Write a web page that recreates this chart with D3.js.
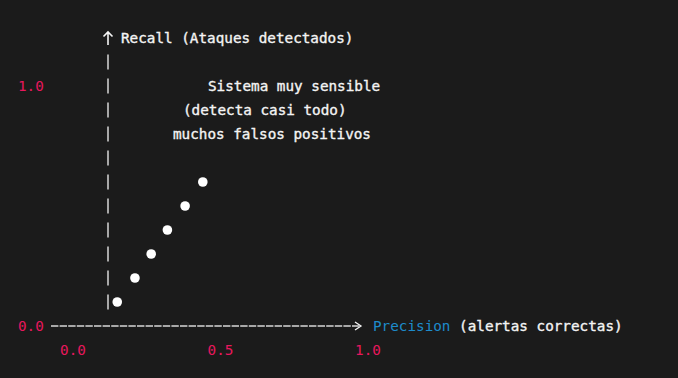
<!DOCTYPE html>
<html>
<head>
<meta charset="utf-8">
<script src="https://cdn.jsdelivr.net/npm/d3@7"></script>
<style>
  html, body { margin: 0; padding: 0; background: #1b1b1b; }
  svg text { font-family: "DejaVu Sans Mono", "Liberation Mono", monospace; font-size: 14.3px; }
</style>
</head>
<body>
<svg id="chart" width="678" height="378"></svg>
<script>
// puntos (precision, recall)
const precision = [0.15, 0.21, 0.265, 0.32, 0.38, 0.44];
const recall = [0.1, 0.2, 0.3, 0.4, 0.5, 0.6];
const xTicks = ["0.0", "0.5", "1.0"];
const yTicks = ["0.0", "1.0"];
const notes = ["Sistema muy sensible", "(detecta casi todo)", "muchos falsos positivos"];

const pink = "#e8175d";
const blue = "#1d8bcb";
const white = "#f4f4f4";

const svg = d3.select("#chart");

const x = d3.scaleLinear().domain([0, 1]).range([73, 368]);
const y = d3.scaleLinear().domain([0, 1]).range([326, 86]);
const axisX = 108;

// texto blanco un poco mas grueso que normal
function medium(sel) {
  sel.attr("fill", white).attr("stroke", white).attr("stroke-width", 0.35);
}

// eje y hecho de barras "|"
const rows = d3.range(1, 12).map((i) => i / 10);
svg.selectAll("line.bar")
  .data(rows)
  .enter()
  .append("line")
  .attr("class", "bar")
  .attr("x1", axisX)
  .attr("x2", axisX)
  .attr("y1", (d) => y(d) - 7.5)
  .attr("y2", (d) => y(d) + 7.5)
  .attr("stroke", white)
  .attr("stroke-width", 1.3);

// flecha arriba
const ay = y(1.2);
svg.append("path")
  .attr("d", `M${axisX},${ay + 7} L${axisX},${ay - 6} M${axisX - 4.5},${ay - 1.5} L${axisX},${ay - 6} L${axisX + 4.5},${ay - 1.5}`)
  .attr("fill", "none")
  .attr("stroke", white)
  .attr("stroke-width", 1.6);

svg.append("text")
  .attr("x", axisX + 13)
  .attr("y", ay + 5)
  .call(medium)
  .text("Recall (Ataques detectados)");

// etiquetas del eje y
svg.selectAll("text.ytick")
  .data(yTicks)
  .enter()
  .append("text")
  .attr("class", "ytick")
  .attr("x", 18)
  .attr("y", (d) => y(+d) + 5)
  .attr("fill", pink)
  .text((d) => d);

// anotacion
const noteX = [208, 183, 173];
svg.selectAll("text.note")
  .data(notes)
  .enter()
  .append("text")
  .attr("class", "note")
  .attr("x", (d, i) => noteX[i])
  .attr("y", (d, i) => y(1 - i * 0.1) + 5)
  .call(medium)
  .text((d) => d);

// eje x
svg.append("line")
  .attr("x1", 51)
  .attr("x2", 360)
  .attr("y1", y(0))
  .attr("y2", y(0))
  .attr("stroke", "#d8d8d8")
  .attr("stroke-width", 1.3)
  .attr("stroke-dasharray", "7.4,1.2");

svg.append("path")
  .attr("d", `M355,${y(0) - 4} L361,${y(0)} L355,${y(0) + 4}`)
  .attr("fill", "none")
  .attr("stroke", white)
  .attr("stroke-width", 1.3);

const xl = svg.append("text")
  .attr("x", 373)
  .attr("y", y(0) + 5);
xl.append("tspan").attr("fill", blue).text("Precision");
xl.append("tspan").call(medium).text(" (alertas correctas)");

svg.selectAll("text.xtick")
  .data(xTicks)
  .enter()
  .append("text")
  .attr("class", "xtick")
  .attr("x", (d) => x(+d))
  .attr("y", 350 + 5)
  .attr("text-anchor", "middle")
  .attr("fill", pink)
  .text((d) => d);

// puntos
svg.selectAll("circle")
  .data(precision.map((p, i) => [p, recall[i]]))
  .enter()
  .append("circle")
  .attr("cx", (d) => x(d[0]))
  .attr("cy", (d) => y(d[1]))
  .attr("r", 4.8)
  .attr("fill", "#ffffff");
</script>
</body>
</html>
